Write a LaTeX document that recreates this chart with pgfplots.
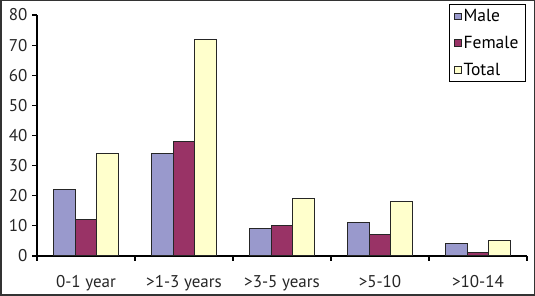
\documentclass[border=0pt]{standalone}
\usepackage{pgfplots}
\pgfplotsset{compat=1.18}
\usepackage{fontspec}
\setmainfont{PT Sans}
\definecolor{male}{HTML}{9999CC}
\definecolor{female}{HTML}{993366}
\definecolor{total}{HTML}{FFFFCC}
\definecolor{frame}{HTML}{333333}
\pgfplotsset{/pgfplots/ybar legend/.style={/pgfplots/legend image code/.code={\draw[##1, line width=0.8pt, bar shift=0pt] (0pt,-3pt) rectangle (6.5pt,3.5pt);}}}
\begin{document}
\begin{tikzpicture}[x=1pt,y=1pt]
\fill[white] (0,0) rectangle (535,296);
\draw[frame,line width=1.5pt] (0.75,0.75) rectangle (534.25,295.25);
\begin{axis}[
  at={(37pt,40pt)}, anchor=south west,
  scale only axis, width=490pt, height=241pt,
  ybar=0pt, bar width=21.7pt,
  xmin=-0.5, xmax=4.5, ymin=0, ymax=80,
  axis x line*=bottom, axis y line*=left,
  axis line style={black, line width=1.2pt},
  xtick={0,1,2,3,4},
  xticklabels={0-1 year,>1-3 years,>3-5 years,>5-10,>10-14},
  minor xtick={-0.5,0.5,1.5,2.5,3.5,4.5},
  major x tick style={draw=none},
  minor x tick style={black,line width=1.2pt},
  minor tick length=5pt,
  ytick={0,10,...,80},
  y tick style={black,line width=1.2pt},
  major tick length=5pt,
  tick align=outside,
  ticklabel style={font=\fontsize{17}{20}\selectfont, text=black!85},
  xticklabel style={yshift=-11pt},
  yticklabel style={xshift=-1pt},
  /pgf/number format/assume math mode=true,
  legend style={at={(rel axis cs:1,1)}, anchor=north east, xshift=-1pt, yshift=11pt,
    draw=black, line width=1.2pt, font=\fontsize{17.5}{21}\selectfont,
    inner xsep=5pt, inner ysep=3pt, row sep=9pt,
    /tikz/every even column/.append style={column sep=4pt}},
  legend cell align=left,
]
\addplot[fill=male, draw=black!85, line width=1pt] coordinates {(0,22) (1,34) (2,9) (3,11) (4,4)};
\addplot[fill=female, draw=black!85, line width=1pt] coordinates {(0,12) (1,38) (2,10) (3,7) (4,1)};
\addplot[fill=total, draw=black!85, line width=1pt] coordinates {(0,34) (1,72) (2,19) (3,18) (4,5)};
\legend{Male,Female,Total}
\end{axis}
\end{tikzpicture}
\end{document}
